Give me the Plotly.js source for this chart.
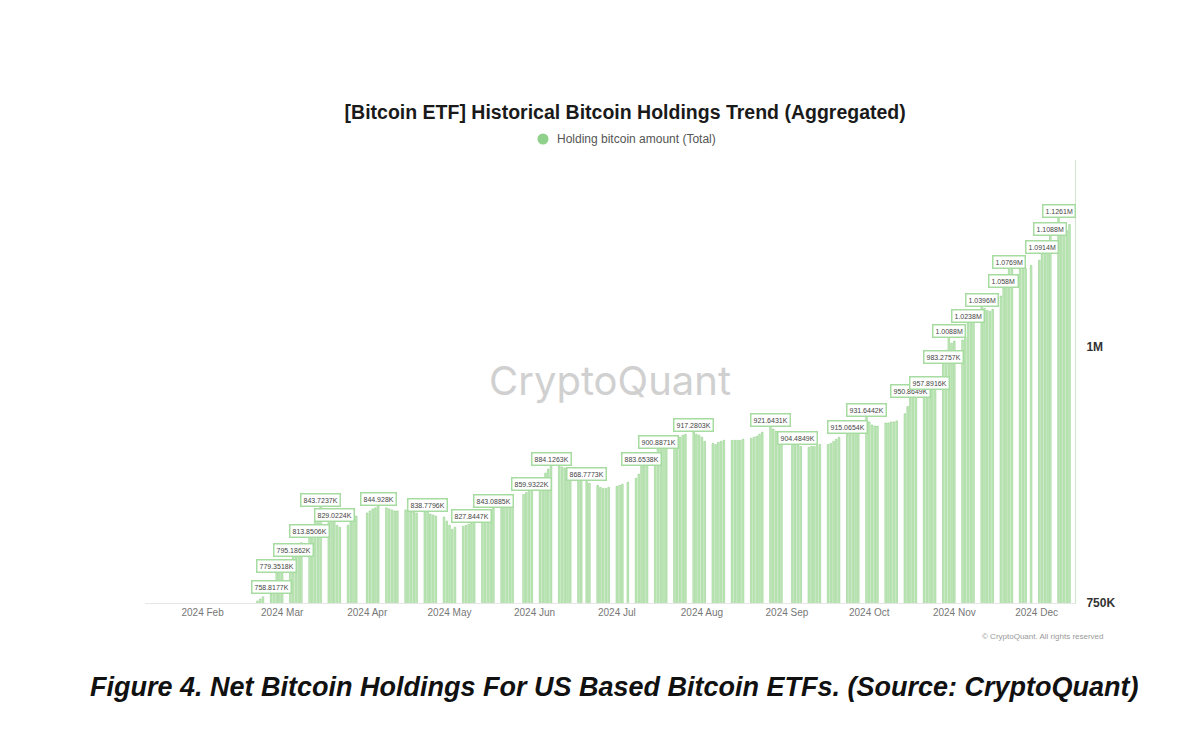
<!DOCTYPE html>
<html>
<head>
<meta charset="utf-8">
<script src="https://cdn.plot.ly/plotly-3.0.1.min.js"></script>
<style>
  html, body { margin: 0; padding: 0; background: #ffffff; }
  #chart { width: 1200px; height: 750px; }
</style>
</head>
<body>
<div id="chart"></div>
<script>
// ---- Data (values in thousands of BTC) ----
const weekStarts = [
  '2024-02-19','2024-02-26','2024-03-04','2024-03-11','2024-03-18','2024-03-25',
  '2024-04-01','2024-04-08','2024-04-15','2024-04-22','2024-04-29','2024-05-06',
  '2024-05-13','2024-05-20','2024-05-27','2024-06-03','2024-06-10','2024-06-17',
  '2024-06-24','2024-07-01','2024-07-08','2024-07-15','2024-07-22','2024-07-29',
  '2024-08-05','2024-08-12','2024-08-19','2024-08-26','2024-09-02','2024-09-09',
  '2024-09-16','2024-09-23','2024-09-30','2024-10-07','2024-10-14','2024-10-21',
  '2024-10-28','2024-11-04','2024-11-11','2024-11-18','2024-11-25','2024-12-02',
  '2024-12-09'
];
// Mon..Fri holdings (K BTC); null = market closed
const weeklyHoldingsK = [
  [null, 749, 752, 754, 756],
  [758.8177, 768, 779.3518, 786, 790],
  [792, 795.1862, 800, 805, 809],
  [813.8506, 822, 830, 838, 843.7237],
  [840, 835, 829.0224, 826, 824],
  [826, 829, 832, 835, null],
  [838, 840, 842, 843, 844.928],
  [843, 842, 841, 840, 840],
  [841, 840, 839, 839, 838],
  [839, 838.7796, 837, 836, 835],
  [834, 830, 826, 822, 824],
  [825, 826, 827, 827.8447, 829],
  [830, 832, 836, 840, 843.0885],
  [845, 848, 850, 852, 854],
  [null, 856, 858, 859, 859.9322],
  [866, 872, 877, 881, 884.1263],
  [884, 883, 882, 880, 876],
  [871, 870, null, 868.7773, 867],
  [865, 863, 862, 862, 863],
  [864, 865, 866, null, 868],
  [872, 876, 883.6538, 884, 886],
  [890, 900.8871, 903, 905, 906],
  [908, 910, 912, 914, 915],
  [917.2803, 915, 914, 912, 908],
  [906, 905, 907, 908, 909],
  [909, 909, 909, 909, 910],
  [911, 912, 913, 915, 917],
  [921.6431, 920, 918, 917, 916],
  [null, 910, 907, 904.4849, 903],
  [902, 903, 903, 904, 905],
  [905, 906, 908, 910, 912],
  [915.0654, 916, 917, 918, 922],
  [931.6442, 927, 924, 923, 923],
  [926, 926, 927, 927, 928],
  [935, 942, 950.8649, 951, 952],
  [953, 955, 957.8916, 958, 959],
  [983.2757, 997, 1008.8, 1004, 1006],
  [1007, 1010, 1023.8, 1030, 1035],
  [1039.6, 1038, 1036, 1035, 1037],
  [1050, 1058, 1066, 1076.9, 1078],
  [1078, 1076, 1077, null, 1080],
  [1085, 1091.4, 1097, 1103, 1108.8],
  [1126.1, 1118, 1115, 1114, 1120]
];

const labelDates = [
  '2024-02-26','2024-02-28','2024-03-05','2024-03-11','2024-03-15','2024-03-20',
  '2024-04-05','2024-04-23','2024-05-09','2024-05-17','2024-05-31','2024-06-07',
  '2024-06-20','2024-07-10','2024-07-16','2024-07-29','2024-08-26','2024-09-05',
  '2024-09-23','2024-09-30','2024-10-16','2024-10-23','2024-10-28','2024-10-30',
  '2024-11-06','2024-11-11','2024-11-19','2024-11-21','2024-12-03','2024-12-06',
  '2024-12-09'
];
const labelValuesK = [
  758.8177, 779.3518, 795.1862, 813.8506, 843.7237, 829.0224,
  844.928, 838.7796, 827.8447, 843.0885, 859.9322, 884.1263,
  868.7773, 883.6538, 900.8871, 917.2803, 921.6431, 904.4849,
  915.0654, 931.6442, 950.8649, 957.8916, 983.2757, 1008.8,
  1023.8, 1039.6, 1058, 1076.9, 1091.4, 1108.8,
  1126.1
];
const labelTexts = [
  '758.8177K','779.3518K','795.1862K','813.8506K','843.7237K','829.0224K',
  '844.928K','838.7796K','827.8447K','843.0885K','859.9322K','884.1263K',
  '868.7773K','883.6538K','900.8871K','917.2803K','921.6431K','904.4849K',
  '915.0654K','931.6442K','950.8649K','957.8916K','983.2757K','1.0088M',
  '1.0238M','1.0396M','1.058M','1.0769M','1.0914M','1.1088M',
  '1.1261M'
];

const yTickVals = [750000, 1000000];
const yTickText = ['750K', '1M'];

// ---- Build daily series ----
const dates = [];
const holdings = [];
weekStarts.forEach((ws, i) => {
  const base = new Date(ws + 'T00:00:00Z').getTime();
  weeklyHoldingsK[i].forEach((v, d) => {
    if (v === null) return;
    dates.push(new Date(base + d * 86400000).toISOString().slice(0, 10));
    holdings.push(v * 1000);
  });
});

const green = '#8fd08a';
const FONT = 'Liberation Sans, Arial, sans-serif';

const bars = {
  type: 'bar',
  x: dates,
  y: holdings,
  name: 'Holding bitcoin amount (Total)',
  marker: { color: 'rgba(186, 230, 178, 0.85)', line: { color: 'rgba(140, 205, 132, 0.9)', width: 0.6 } },
  showlegend: false,
  hoverinfo: 'x+y'
};

const annotations = labelDates.map((d, i) => ({
  x: d, y: labelValuesK[i] * 1000,
  xref: 'x', yref: 'y',
  text: labelTexts[i],
  showarrow: false,
  yanchor: 'bottom', xanchor: 'center',
  bgcolor: '#ffffff',
  bordercolor: '#a6dca0',
  borderwidth: 1.5,
  borderpad: 2,
  font: { family: FONT, size: 7, color: '#444' }
}));

// watermark
annotations.push({
  x: 0.5, y: 0.503, xref: 'paper', yref: 'paper',
  text: 'CryptoQuant', showarrow: false,
  font: { family: 'Inter, Lato, sans-serif', size: 40, color: '#d0d0d0' }
});
// legend text
annotations.push({
  x: 0.4409, y: 1.0474, xref: 'paper', yref: 'paper', xanchor: 'left', yanchor: 'middle',
  text: 'Holding bitcoin amount (Total)', showarrow: false,
  font: { family: FONT, size: 12, color: '#555' }
});
// copyright
annotations.push({
  x: 1.033, y: -0.075, xref: 'paper', yref: 'paper', xanchor: 'right', yanchor: 'middle',
  text: '© CryptoQuant. All rights reserved', showarrow: false,
  font: { family: FONT, size: 8, color: '#999' }
});
// caption
annotations.push({
  x: 0.505, y: -0.19, xref: 'paper', yref: 'paper', xanchor: 'center', yanchor: 'middle',
  text: '<b><i>Figure 4. Net Bitcoin Holdings For US Based Bitcoin ETFs. (Source: CryptoQuant)</i></b>',
  showarrow: false,
  font: { family: FONT, size: 27, color: '#111' }
});

const layout = {
  width: 1200, height: 750,
  paper_bgcolor: '#ffffff', plot_bgcolor: '#ffffff',
  margin: { l: 145, r: 125, t: 160, b: 147 },
  title: {
    text: '<b>[Bitcoin ETF] Historical Bitcoin Holdings Trend (Aggregated)</b>',
    x: 0.521, xanchor: 'center', y: 1 - 112 / 750, yanchor: 'middle',
    font: { family: FONT, size: 19.5, color: '#1a1a1a' }
  },
  showlegend: false,
  bargap: 0.4,
  xaxis: {
    type: 'date',
    range: ['2024-01-11', '2024-12-15'],
    tick0: '2024-02-01', dtick: 'M1',
    tickformat: '%Y %b',
    showgrid: false, zeroline: false,
    showline: true, linecolor: '#e6e6e6', linewidth: 1,
    ticks: '',
    tickfont: { family: FONT, size: 10, color: '#777' }
  },
  yaxis: {
    side: 'right',
    range: [750000, 1183000],
    tickvals: yTickVals, ticktext: yTickText,
    showgrid: false, zeroline: false,
    showline: true, linecolor: '#cfe6cc', linewidth: 1,
    ticks: '',
    ticklabelstandoff: 8,
    tickfont: { family: FONT, size: 12, color: '#333', weight: 'bold' }
  },
  shapes: [{
    type: 'circle', xref: 'paper', yref: 'paper',
    x0: 0.4220, x1: 0.4339, y0: 1.035, y1: 1.0598,
    fillcolor: green, line: { width: 0 }
  }],
  annotations: annotations
};

Plotly.newPlot('chart', [bars], layout, { displayModeBar: false });
</script>
</body>
</html>
